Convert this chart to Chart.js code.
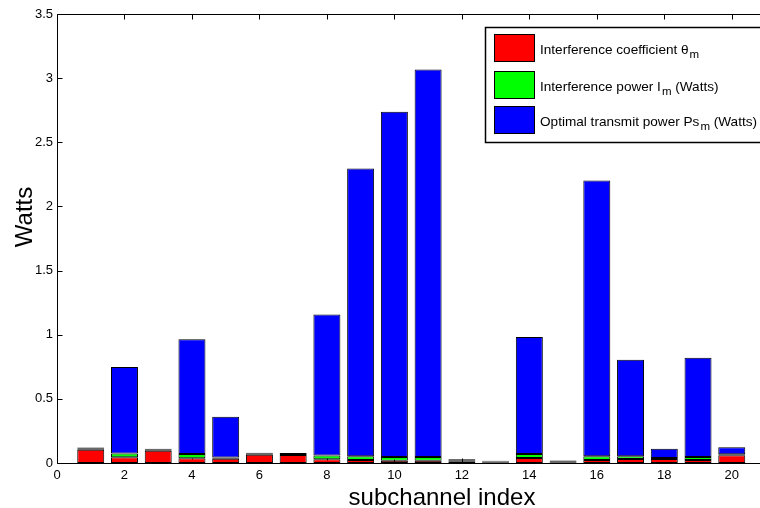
<!DOCTYPE html>
<html>
<head>
<meta charset="utf-8">
<script src="https://cdn.jsdelivr.net/npm/chart.js@4/dist/chart.umd.min.js"></script>
<style>
  html, body { margin: 0; padding: 0; background: #fff; overflow: hidden; }
  #wrap { position: relative; width: 760px; height: 508px; overflow: hidden; }
  #c { position: absolute; left: 0; top: 0; }
</style>
</head>
<body>
<div id="wrap"><canvas id="c" width="770" height="508"></canvas></div>
<script>
// ---- data ----
const subchannels = [1,2,3,4,5,6,7,8,9,10,11,12,13,14,15,16,17,18,19,20];
const interferenceCoeff = [0.104,0.045,0.095,0.038,0.034,0.064,0.062,0.030,0.023,0.018,0.018,0.014,0.005,0.039,0.006,0.023,0.031,0.031,0.023,0.060];
const interferencePower = [0.008,0.030,0.008,0.032,0.008,0.008,0.008,0.028,0.029,0.029,0.029,0.008,0.006,0.032,0.007,0.029,0.021,0.008,0.024,0.008];
const transmitPower = [0.008,0.673,0.008,0.894,0.319,0.008,0.008,1.100,2.244,2.691,3.021,0.008,0.006,0.911,0.007,2.151,0.753,0.072,0.774,0.054];
const xTicks = [0,2,4,6,8,10,12,14,16,18,20];
const yTicks = [0,0.5,1,1.5,2,2.5,3,3.5];
const seriesNames = ['Interference coefficient θ', 'Interference power I', 'Optimal transmit power Ps'];
const seriesSub = ['m', 'm', 'm'];
const seriesSuffix = ['', ' (Watts)', ' (Watts)'];
const seriesColors = ['#ff0000', '#00ff00', '#0000ff'];
const xTitle = 'subchannel index';
const yTitle = 'Watts';

const FONT = '"Liberation Sans", Arial, sans-serif';

function mk(vals) { return subchannels.map((c, i) => ({ x: c, y: vals[i] })); }

const datasets = [interferenceCoeff, interferencePower, transmitPower].map((vals, i) => ({
  label: seriesNames[i] + seriesSub[i] + seriesSuffix[i],
  data: mk(vals),
  backgroundColor: seriesColors[i],
  borderColor: '#000',
  borderWidth: 1,
  borderSkipped: false,
  inflateAmount: 0,
  barPercentage: 0.8,
  categoryPercentage: 1.0
}));

const framePlugin = {
  id: 'frame',
  beforeDatasetsDraw(chart) {
    const { ctx, chartArea: a, scales: { x, y } } = chart;
    ctx.save();
    ctx.strokeStyle = '#000';
    ctx.lineWidth = 1;
    ctx.beginPath();
    const L = Math.round(a.left) + 0.5, R = Math.round(a.right) + 0.5;
    const T = Math.round(a.top) + 0.5, B = Math.round(a.bottom) + 0.5;
    ctx.rect(L, T, R - L, B - T);
    xTicks.forEach(v => {
      const px = Math.round(x.getPixelForValue(v)) + 0.5;
      ctx.moveTo(px, B); ctx.lineTo(px, B - 5);
      ctx.moveTo(px, T); ctx.lineTo(px, T + 5);
    });
    yTicks.forEach(v => {
      const py = Math.round(y.getPixelForValue(v)) + 0.5;
      ctx.moveTo(L, py); ctx.lineTo(L + 5, py);
      ctx.moveTo(R, py); ctx.lineTo(R - 5, py);
    });
    ctx.stroke();
    ctx.restore();
  },
  afterDraw(chart) {
    const { ctx } = chart;
    ctx.save();
    ctx.fillStyle = '#000';
    // axis titles
    ctx.font = '24px ' + FONT;
    ctx.textAlign = 'center';
    ctx.textBaseline = 'alphabetic';
    ctx.fillText(xTitle, 442, 505);
    ctx.save();
    ctx.translate(32, 217);
    ctx.rotate(-Math.PI / 2);
    ctx.fillText(yTitle, 0, 0);
    ctx.restore();

    // legend
    const lx = 485.5, ly = 27.5, lw = 300, lh = 115;
    ctx.fillStyle = '#fff';
    ctx.fillRect(lx, ly, lw, lh);
    ctx.strokeStyle = '#000';
    ctx.lineWidth = 1.5;
    ctx.strokeRect(lx, ly, lw, lh);
    const swTop = [34, 71, 106];
    seriesNames.forEach((name, i) => {
      ctx.fillStyle = seriesColors[i];
      ctx.fillRect(494, swTop[i], 41, 28);
      ctx.lineWidth = 1;
      ctx.strokeStyle = '#000';
      ctx.strokeRect(494.5, swTop[i] + 0.5, 40, 27);
      ctx.fillStyle = '#000';
      ctx.textAlign = 'left';
      ctx.textBaseline = 'alphabetic';
      const base = swTop[i] + 20;
      ctx.font = '13.6px ' + FONT;
      ctx.fillText(name, 540, base);
      let xp = 540 + ctx.measureText(name).width;
      ctx.font = '11.5px ' + FONT;
      ctx.fillText(seriesSub[i], xp + 1, base + 4);
      xp += ctx.measureText(seriesSub[i]).width + 1;
      ctx.font = '13.6px ' + FONT;
      if (seriesSuffix[i]) ctx.fillText(seriesSuffix[i], xp, base);
    });
    ctx.restore();
  }
};

new Chart(document.getElementById('c'), {
  type: 'bar',
  data: { datasets },
  plugins: [framePlugin],
  options: {
    responsive: false,
    animation: false,
    events: [],
    layout: { padding: { left: 0, top: 14, right: 4.5, bottom: 0 } },
    plugins: { legend: { display: false }, tooltip: { enabled: false } },
    scales: {
      x: {
        type: 'linear',
        stacked: true,
        offset: false,
        min: 0,
        max: 21,
        grid: { display: false, drawTicks: false },
        border: { display: false },
        afterBuildTicks: s => { s.ticks = xTicks.map(v => ({ value: v })); },
        afterFit: s => { s.height = 45; },
        ticks: {
          color: '#000',
          padding: 5,
          maxRotation: 0,
          autoSkip: false,
          callback: v => String(v),
          font: { family: FONT, size: 13 }
        }
      },
      y: {
        stacked: true,
        min: 0,
        max: 3.5,
        grid: { display: false, drawTicks: false },
        border: { display: false },
        afterBuildTicks: s => { s.ticks = yTicks.map(v => ({ value: v })); },
        afterFit: s => { s.width = 57; },
        ticks: {
          color: '#000',
          padding: 4,
          callback: v => String(v),
          font: { family: FONT, size: 13 }
        }
      }
    }
  }
});
</script>
</body>
</html>
